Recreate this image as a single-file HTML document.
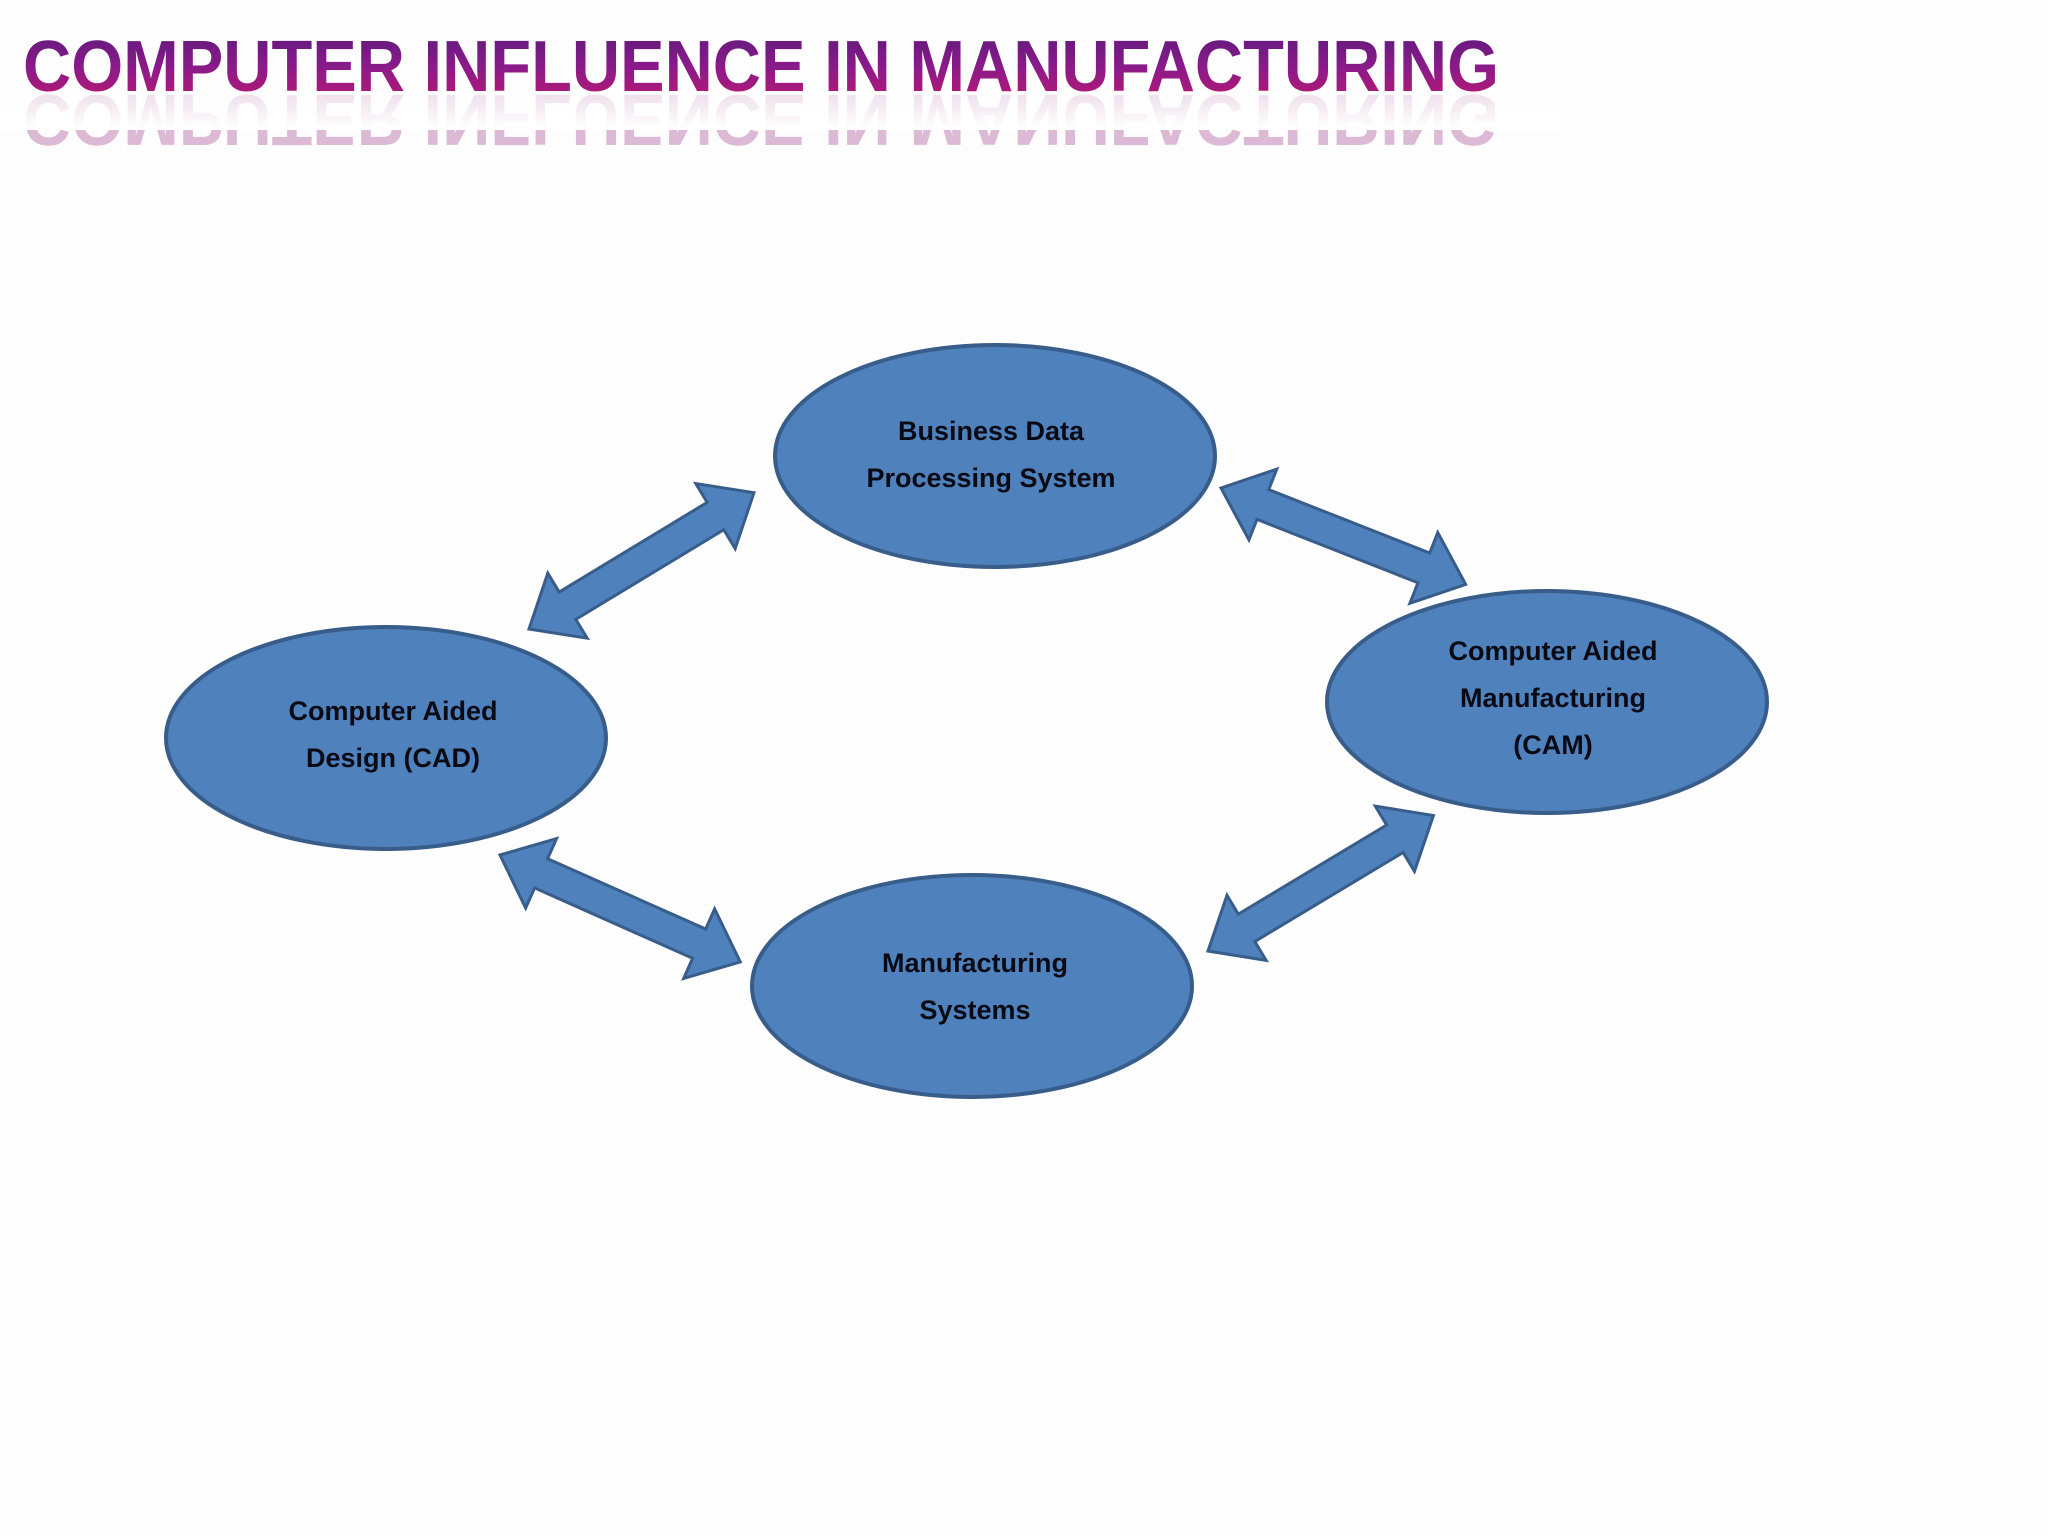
<!DOCTYPE html>
<html><head><meta charset="utf-8"><style>
html,body{margin:0;padding:0;background:#fdfdfd;}
svg{display:block;}
</style></head><body>
<svg width="2048" height="1536" viewBox="0 0 2048 1536" xmlns="http://www.w3.org/2000/svg">
<defs>
<linearGradient id="tg" x1="0" y1="0" x2="0" y2="1">
<stop offset="0" stop-color="#5a1a7a"/>
<stop offset="0.5" stop-color="#8a1a8a"/>
<stop offset="1" stop-color="#c0186e"/>
</linearGradient>
<linearGradient id="rf" x1="0" y1="0" x2="0" y2="1">
<stop offset="0" stop-color="#fff" stop-opacity="0.55"/>
<stop offset="1" stop-color="#fff" stop-opacity="1"/>
</linearGradient>
<polygon id="arr" points="0,0 45,-38 45,-16 218,-16 218,-38 263,0 218,38 218,16 45,16 45,38" fill="#4F81BD" stroke="#385D8A" stroke-width="3" stroke-linejoin="miter"/>
</defs>
<rect width="2048" height="1536" fill="#fdfdfd"/>
<text x="23" y="91" font-family="Liberation Sans, sans-serif" font-weight="bold" font-size="72" textLength="1476" lengthAdjust="spacingAndGlyphs" fill="url(#tg)">COMPUTER INFLUENCE IN MANUFACTURING</text>
<g transform="translate(0,186) scale(1,-1)" opacity="0.35">
<text x="23" y="91" font-family="Liberation Sans, sans-serif" font-weight="bold" font-size="72" textLength="1476" lengthAdjust="spacingAndGlyphs" fill="#a04090">COMPUTER INFLUENCE IN MANUFACTURING</text>
</g>
<rect x="0" y="94" width="1560" height="36" fill="url(#rf)"/>

<use href="#arr" transform="translate(529,629) rotate(-31.2)"/>
<use href="#arr" transform="translate(1221,488) rotate(21.5)"/>
<use href="#arr" transform="translate(500,855) rotate(24)"/>
<use href="#arr" transform="translate(1208,951) rotate(-31)"/>

<g fill="#4F81BD" stroke="#385D8A" stroke-width="4">
<ellipse cx="995" cy="456" rx="220" ry="111"/>
<ellipse cx="386" cy="738" rx="220" ry="111"/>
<ellipse cx="1547" cy="702" rx="220" ry="111"/>
<ellipse cx="972" cy="986" rx="220" ry="111"/>
</g>
<g font-family="Liberation Sans, sans-serif" font-weight="bold" font-size="27" fill="#0a0a14" text-anchor="middle">
<text x="991" y="440">Business Data</text>
<text x="991" y="487">Processing System</text>
<text x="393" y="720">Computer Aided</text>
<text x="393" y="767">Design (CAD)</text>
<text x="1553" y="660">Computer Aided</text>
<text x="1553" y="707">Manufacturing</text>
<text x="1553" y="754">(CAM)</text>
<text x="975" y="972">Manufacturing</text>
<text x="975" y="1019">Systems</text>
</g>
</svg>
</body></html>
